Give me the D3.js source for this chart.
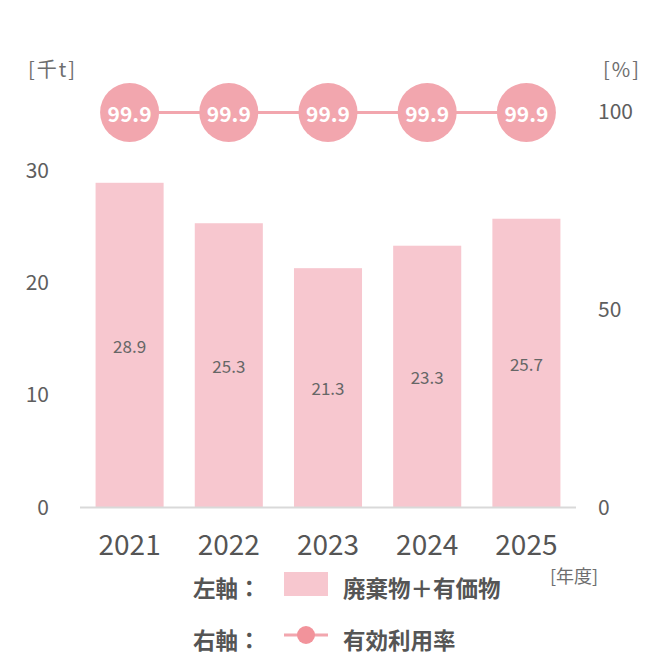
<!DOCTYPE html>
<html><head><meta charset="utf-8">
<script src="https://cdn.jsdelivr.net/npm/d3@7"></script>
<style>html,body{margin:0;padding:0;background:#fff}</style>
</head><body>
<svg id="c" width="655" height="664"></svg>
<script>
const years = ["2021","2022","2023","2024","2025"];
const waste = [28.9, 25.3, 21.3, 23.3, 25.7];
const rate = [99.9, 99.9, 99.9, 99.9, 99.9];
const leftTicks = [0, 10, 20, 30];
const rightTicks = [0, 50, 100];

const svg = d3.select("#c");
const font = "'Noto Sans CJK JP','Noto Sans',sans-serif";
const x = d3.scaleBand().domain(years).range([80, 576]).paddingInner(0.314).paddingOuter(0.157);
const yL = d3.scaleLinear().domain([0, 35.2]).range([507.5, 112]);
const yR = d3.scaleLinear().domain([0, 100]).range([507.5, 112]);

// bars
svg.selectAll("rect.bar").data(waste).join("rect").attr("class","bar")
  .attr("x",(d,i)=>x(years[i])).attr("width",x.bandwidth())
  .attr("y",d=>yL(d)).attr("height",d=>yL(0)-yL(d)).attr("fill","#f7c7cf");
svg.selectAll("text.val").data(waste).join("text").attr("class","val")
  .attr("x",(d,i)=>x(years[i])+x.bandwidth()/2).attr("y",d=>(yL(d)+yL(0))/2)
  .attr("text-anchor","middle").attr("dominant-baseline","central")
  .attr("font-family",font).attr("font-size",17).attr("fill","#666").text(d=>d.toFixed(1));

// baseline
svg.append("line").attr("x1",80).attr("x2",576).attr("y1",yL(0)).attr("y2",yL(0))
  .attr("stroke","#d9d9d9").attr("stroke-width",2);

// left axis
const gl = svg.append("g").attr("transform","translate(49,0)")
  .call(d3.axisLeft(yL).tickValues(leftTicks).tickSize(0).tickPadding(0));
gl.select(".domain").remove();
gl.selectAll("text").attr("font-family",font).attr("font-size",21).attr("fill","#5e5e5e");
// right axis
const gr = svg.append("g").attr("transform","translate(598,0)")
  .call(d3.axisRight(yR).tickValues(rightTicks).tickSize(0).tickPadding(0));
gr.select(".domain").remove();
gr.selectAll("text").attr("font-family",font).attr("font-size",21).attr("fill","#5e5e5e");
// x axis
const gx = svg.append("g").attr("transform","translate(0,"+yL(0)+")")
  .call(d3.axisBottom(x).tickSize(0).tickPadding(0));
gx.select(".domain").remove();
gx.selectAll("text").attr("font-family",font).attr("font-size",28).attr("fill","#555")
  .attr("dy",null).attr("y",35).attr("dominant-baseline","central");

// units
svg.append("text").attr("x",28).attr("y",68).attr("dominant-baseline","central").attr("letter-spacing",2)
  .attr("font-family",font).attr("font-size",20).attr("fill","#6e6e6e").text("[千t]");
svg.append("text").attr("x",603).attr("y",68).attr("dominant-baseline","central").attr("letter-spacing",2)
  .attr("font-family",font).attr("font-size",20).attr("fill","#6e6e6e").text("[%]");
svg.append("text").attr("x",550).attr("y",575).attr("dominant-baseline","central")
  .attr("font-family",font).attr("font-size",18).attr("fill","#6e6e6e").text("[年度]");

// line
const line = d3.line().x((d,i)=>x(years[i])+x.bandwidth()/2).y(d=>yR(d));
svg.append("path").datum(rate).attr("d",line).attr("fill","none").attr("stroke","#f2a6ae").attr("stroke-width",3);
svg.selectAll("circle.pt").data(rate).join("circle").attr("class","pt")
  .attr("cx",(d,i)=>x(years[i])+x.bandwidth()/2).attr("cy",d=>yR(d)).attr("r",29.5).attr("fill","#f2a6ae");
svg.selectAll("text.pt").data(rate).join("text").attr("class","pt")
  .attr("x",(d,i)=>x(years[i])+x.bandwidth()/2).attr("y",d=>yR(d)+1)
  .attr("text-anchor","middle").attr("dominant-baseline","central")
  .attr("font-family",font).attr("font-size",21).attr("font-weight",700).attr("fill","#fff").text(d=>d.toFixed(1));

// legend
const lg = svg.append("g");
const lt = (xx, yy, s) => lg.append("text").attr("x",xx).attr("y",yy).attr("dominant-baseline","central")
  .attr("font-family",font).attr("font-size",22.5).attr("font-weight",700).attr("fill","#555").text(s);
lt(193, 587, "左軸：");
lg.append("rect").attr("x",284).attr("y",572).attr("width",44).attr("height",24).attr("fill","#f7c7cf");
lt(343, 587, "廃棄物＋有価物");
lt(193, 639, "右軸：");
lg.append("line").attr("x1",284).attr("x2",328).attr("y1",635).attr("y2",635).attr("stroke","#f2a6ae").attr("stroke-width",3);
lg.append("circle").attr("cx",306).attr("cy",635).attr("r",9).attr("fill","#f2939b");
lt(343, 639, "有効利用率");
</script>
</body></html>
